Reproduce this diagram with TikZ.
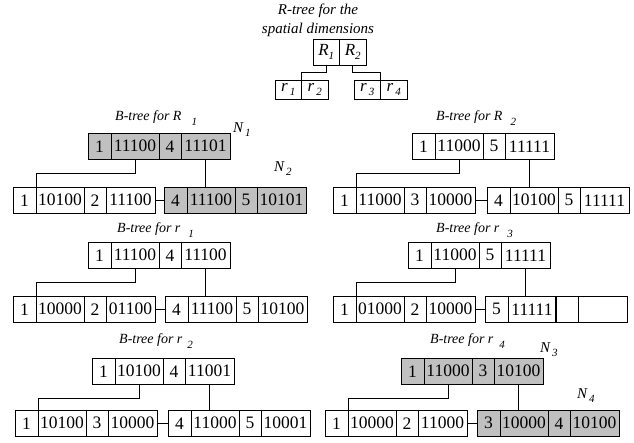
\documentclass[tikz,border=0pt]{standalone}
\usepackage{fontspec}
\setmainfont{Liberation Serif}
\definecolor{shade}{RGB}{192,192,192}
\tikzset{
 cell/.style={draw, line width=1pt, inner sep=0pt, outer sep=0pt, minimum height=26.5pt, anchor=north west, font=\fontsize{17.5}{18}\selectfont},
 shaded/.style={fill=shade},
 conn/.style={line width=1pt},
 rcell/.style={draw, line width=1pt, inner sep=0pt, outer sep=0pt, anchor=north west, minimum width=26.5pt, font=\fontsize{17}{18}\selectfont\itshape},
 title/.style={font=\fontsize{14}{16}\selectfont\itshape, inner sep=0pt, anchor=west},
 lbl/.style={font=\fontsize{15}{16}\selectfont\itshape, inner sep=0pt, anchor=west},
}
\newcommand\sbs[1]{\raisebox{-4pt}{\fontsize{11}{12}\selectfont\itshape #1}}
\newcommand\tsb[1]{\raisebox{-5pt}{\fontsize{11}{12}\selectfont\itshape #1}}
\newcommand\rec[8]{%
 \node[cell,#1,minimum width=23pt] (#2a) at (#3,#4) {#5};
 \node[cell,#1,minimum width=48pt] (#2b) at (#2a.north east) {#6};
 \node[cell,#1,minimum width=22pt] (#2c) at (#2b.north east) {#7};
 \node[cell,#1,minimum width=49pt] (#2d) at (#2c.north east) {#8};
}
\newcommand\links[3]{%
 \draw[conn] (#1b.south) -- ++(0,13.5) -| (#2a.north east);
 \draw[conn] (#1d.south) -- (#1d.south |- #3a.north);
 \draw[conn] (#2d.east) -- (#3a.west);
}
\begin{document}
\begin{tikzpicture}[x=1pt,y=-1pt]
\useasboundingbox (0,0) rectangle (634,442);
% R-tree
\node[font=\fontsize{15}{16}\selectfont\itshape, inner sep=0pt] (rt1) at (318,11) {R-tree for the};
\node[font=\fontsize{15}{16}\selectfont\itshape, inner sep=0pt] (rt2) at (318,30) {spatial dimensions};
\node[rcell, minimum height=26pt] (RA) at (313,39) {R\sbs{1}};
\node[rcell, minimum height=26pt] (RB) at (RA.north east) {R\sbs{2}};
\node[rcell, minimum height=19.5pt] (ra) at (275,80) {r\hspace{2pt}\sbs{1}};
\node[rcell, minimum height=19.5pt] (rb) at (ra.north east) {r\hspace{2pt}\sbs{2}};
\node[rcell, minimum height=19.5pt] (rc) at (354,80) {r\hspace{2pt}\sbs{3}};
\node[rcell, minimum height=19.5pt] (rd) at (rc.north east) {r\hspace{2pt}\sbs{4}};
\draw[conn] (RA.south) -- ++(0,7.5) -| (ra.north east);
\draw[conn] (RB.south) -- ++(0,7.5) -| (rc.north east);
% B-tree for R1
\node[title] (t1) at (115,118) {B-tree for R\hspace{10pt}\tsb{1}};
\node[lbl] (n1) at (233,130) {N\hspace{2pt}\sbs{1}};
\rec{shaded}{A}{88}{133}{1}{11100}{4}{11101}
\rec{}{AL}{13}{187}{1}{10100}{2}{11100}
\rec{shaded}{AR}{164}{187}{4}{11100}{5}{10101}
\node[lbl] (n2) at (274,169) {N\hspace{2pt}\sbs{2}};
\links{A}{AL}{AR}
% B-tree for R2
\node[title] (t2) at (436,118) {B-tree for R\hspace{8pt}\tsb{2}};
\rec{}{B}{412}{133}{1}{11000}{5}{11111}
\rec{}{BL}{333}{187}{1}{11000}{3}{10000}
\rec{}{BR}{487}{187}{4}{10100}{5}{11111}
\links{B}{BL}{BR}
% B-tree for r1
\node[title] (t3) at (117,230) {B-tree for r\hspace{8pt}\tsb{1}};
\rec{}{C}{88}{242}{1}{11100}{4}{11100}
\rec{}{CL}{13}{296}{1}{10000}{2}{01100}
\rec{}{CR}{165}{296}{4}{11100}{5}{10100}
\links{C}{CL}{CR}
% B-tree for r3
\node[title] (t4) at (436,230) {B-tree for r\hspace{8pt}\tsb{3}};
\rec{}{D}{408}{242}{1}{11000}{5}{11111}
\rec{}{DL}{333}{296}{1}{01000}{2}{10000}
\rec{}{DR}{485}{296}{5}{11111}{}{}
\draw[line width=1.9pt] (DRb.north east) -- (DRb.south east);
\links{D}{DL}{DR}
% B-tree for r2
\node[title] (t5) at (119,341) {B-tree for r\hspace{5pt}\tsb{2}};
\rec{}{E}{92}{358}{1}{10100}{4}{11001}
\rec{}{EL}{15}{410}{1}{10100}{3}{10000}
\rec{}{ER}{168}{410}{4}{11000}{5}{10001}
\links{E}{EL}{ER}
% B-tree for r4
\node[title] (t6) at (430,341) {B-tree for r\hspace{6pt}\tsb{4}};
\node[lbl] (n3) at (540,350) {N\hspace{2pt}\sbs{3}};
\rec{shaded}{F}{401}{358}{1}{11000}{3}{10100}
\rec{}{FL}{325}{410}{1}{10000}{2}{11000}
\rec{shaded}{FR}{477}{410}{3}{10000}{4}{10100}
\node[lbl] (n4) at (577,396) {N\hspace{2pt}\sbs{4}};
\links{F}{FL}{FR}
\end{tikzpicture}
\end{document}
